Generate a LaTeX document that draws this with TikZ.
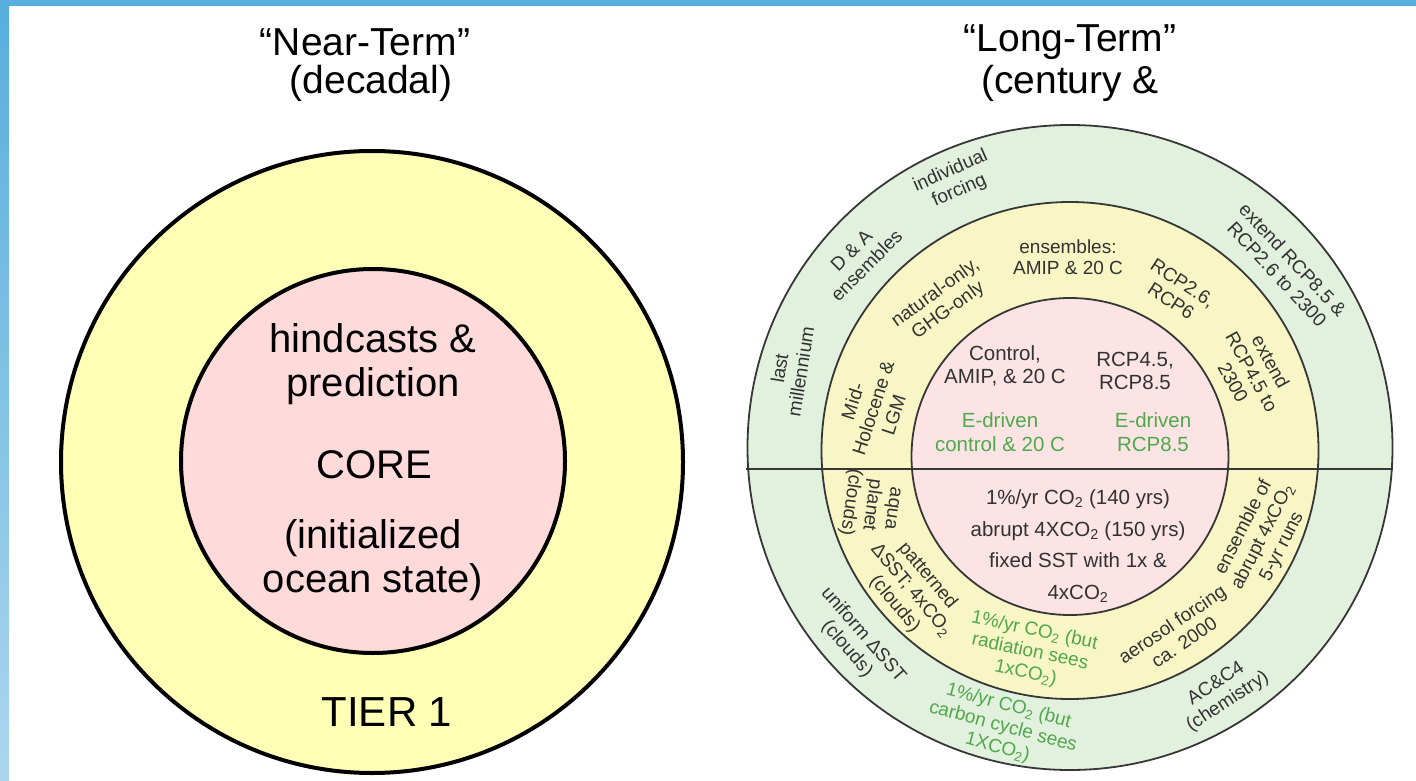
\documentclass[tikz,border=0pt]{standalone}
\usepackage{fontspec}
\setmainfont{Liberation Sans}

\definecolor{frametop}{RGB}{88,174,220}
\definecolor{framebot}{RGB}{172,214,238}
\definecolor{tierone}{RGB}{255,255,181}
\definecolor{corepink}{RGB}{255,218,218}
\definecolor{ltgreen}{RGB}{226,240,222}
\definecolor{ltyellow}{RGB}{248,246,196}
\definecolor{ltpink}{RGB}{252,228,228}
\definecolor{ringline}{RGB}{55,55,55}
\definecolor{ringtext}{RGB}{50,50,50}
\definecolor{edgreen}{RGB}{80,168,76}

\begin{document}
\begin{tikzpicture}[x=1pt, y=-1pt,
    title/.style={font=\fontsize{39}{41}\selectfont, align=center},
    big/.style={font=\fontsize{40}{44}\selectfont, align=center},
    tierline/.style={draw=black, line width=4pt},
    thinline/.style={draw=ringline, line width=1.8pt},
    ring/.style={font=\fontsize{19}{21.5}\selectfont, text=ringtext, align=center, inner sep=0pt},
    inner/.style={font=\fontsize{20.5}{23.5}\selectfont, text=ringtext, align=center, inner sep=0pt},
    edriven/.style={text=edgreen}]
    \useasboundingbox (0,0) rectangle (1416,781);

    % frame
    \shade[top color=frametop, bottom color=framebot] (0,0) rectangle (9,781);
    \fill[frametop] (0,0) rectangle (1416,6);

    \node[title] (near) at (365,42) {“Near-Term”};
    \node[title] (decadal) at (371,83) {(decadal)};
    \node[title] (long) at (1070,42) {“Long-Term”};
    \node[title] (century) at (1070,83) {(century \&};

    % near-term target
    \filldraw[fill=tierone, tierline] (372,462) circle (311);
    \filldraw[fill=corepink, tierline] (373,461) circle (192);

    \node[big] (hind) at (373,364) {hindcasts \&\\prediction};
    \node[big] (core) at (374,465) {CORE};
    \node[big] (init) at (373,560) {(initialized\\ocean state)};
    \node[big, font=\fontsize{42}{44}\selectfont] (tier) at (387,712) {TIER 1};

    % long-term target
    \filldraw[fill=ltgreen, thinline] (1070,447.5) circle (322.5);
    \filldraw[fill=ltyellow, thinline] (1070,450.5) circle (248.5);
    \filldraw[fill=ltpink, thinline] (1070,456.5) circle (158.5);
    \coordinate (cutL) at (746,469);
    \coordinate (cutR) at (1393,469);
    \draw[line width=2.8pt, ringline] (cutL) -- (cutR);

    % upper half
    \node[inner] (ctrl) at (1005,366) {Control,\\AMIP, \& 20 C};
    \node[inner] (rcp) at (1135,371) {RCP4.5,\\RCP8.5};
    \node[inner, edriven] (ectrl) at (1000,432) {E-driven\\control \& 20 C};
    \node[inner, edriven] (ercp) at (1153,432) {E-driven\\RCP8.5};

    \node[ring] (amip) at (1068,257) {ensembles:\\AMIP \& 20 C};
    \node[ring, rotate=36] (natural) at (942,302) {natural-only,\\GHG-only};
    \node[ring, rotate=72] (holo) at (873,408) {Mid-\\Holocene \&\\LGM};
    \node[ring, rotate=-33] (rcpsix) at (1177,292) {RCP2.6,\\RCP6};
    \node[ring, rotate=-61] (extfour) at (1252,372) {extend\\RCP4.5 to\\2300};

    \node[ring, rotate=24] (indiv) at (955,181) {individual\\forcing};
    \node[ring, rotate=45] (dna) at (859,258) {D \& A\\ensembles};
    \node[ring, rotate=81] (lastm) at (790,370) {last\\millennium};
    \node[ring, rotate=-47] (exteight) at (1285,267) {extend RCP8.5 \&\\RCP2.6 to 2300};

    % lower half
    \node[inner, font=\fontsize{20.5}{31.5}\selectfont] (idealized) at (1078,546)
        {1\%/yr CO\textsubscript{2} (140 yrs)\\abrupt 4XCO\textsubscript{2} (150 yrs)\\fixed SST with 1x \&\\4xCO\textsubscript{2}};

    \node[ring, rotate=-98] (aqua) at (870,505) {aqua\\planet\\(clouds)};
    \node[ring, rotate=-50] (pattern) at (911,590) {patterned\\ΔSST; 4xCO\textsubscript{2}\\(clouds)};
    \node[ring, edriven, rotate=-12] (radsees) at (1030,652) {1\%/yr CO\textsubscript{2} (but\\radiation sees\\1xCO\textsubscript{2})};
    \node[ring, rotate=34] (aerosol) at (1178,633) {aerosol forcing\\ca. 2000};
    \node[ring, rotate=63] (abrupt) at (1263,537) {ensemble of\\abrupt 4xCO\textsubscript{2}\\5-yr runs};

    \node[ring, rotate=-49] (uniform) at (855,642) {uniform ΔSST\\(clouds)};
    \node[ring, edriven, rotate=-15] (carbon) at (1003,727) {1\%/yr CO\textsubscript{2} (but\\carbon cycle sees\\1XCO\textsubscript{2})};
    \node[ring, rotate=33] (chem) at (1222,693) {AC\&C4\\(chemistry)};
\end{tikzpicture}
\end{document}
